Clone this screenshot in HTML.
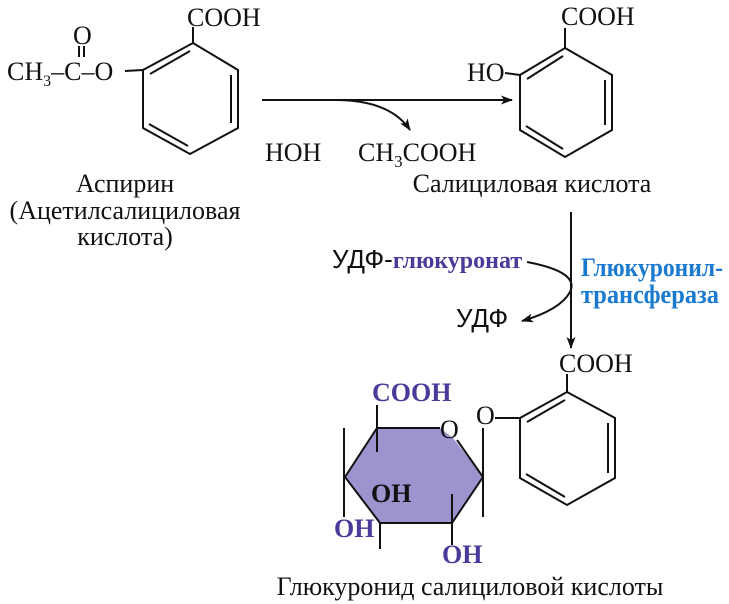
<!DOCTYPE html>
<html><head><meta charset="utf-8"><style>
html,body{margin:0;padding:0;background:#fff;}
svg{display:block;}
text{font-family:"Liberation Serif",serif;font-size:26px;fill:#111;}
.p{fill:#4b3a9a;font-weight:bold;}
.b{fill:#1a7ad0;font-weight:bold;}
.s{font-family:"Liberation Sans",sans-serif;}
</style></head><body>
<svg width="729" height="604" viewBox="0 0 729 604">
<defs><marker id="a" markerWidth="12" markerHeight="9" refX="11" refY="4.5" orient="auto" markerUnits="userSpaceOnUse"><path d="M0,0 L12,4.5 L0,9 L3,4.5z" fill="#111"/></marker></defs>
<g stroke="#111" stroke-width="2" fill="none">
<polygon points="193,43 238,70 238,128 190,154 143,128 143,70"/>
<line x1="150" y1="74" x2="190" y2="51"/>
<line x1="231" y1="75" x2="231" y2="123"/>
<line x1="149" y1="124" x2="188" y2="146"/>
<line x1="193" y1="43" x2="193" y2="27"/>
<line x1="125" y1="71" x2="143" y2="70"/>
<line x1="79" y1="46" x2="79" y2="57"/><line x1="84" y1="46" x2="84" y2="57"/>
<line x1="262" y1="100" x2="512" y2="100" marker-end="url(#a)"/>
<path d="M335,100 Q390,100 410,130" marker-end="url(#a)"/>
<polygon points="565,48 612,75 612,130 565,157 520,130 520,75"/>
<line x1="527" y1="79" x2="563" y2="56"/>
<line x1="605" y1="80" x2="605" y2="125"/>
<line x1="526" y1="126" x2="563" y2="149"/>
<line x1="565" y1="48" x2="565" y2="28"/>
<line x1="505" y1="73" x2="520" y2="75"/>
<line x1="571" y1="212" x2="571" y2="348" marker-end="url(#a)"/>
<path d="M527,262 Q580,272 570,292 Q560,310 522,321" marker-end="url(#a)"/>
</g>
<polygon points="377,428 440,428 453,438 483,477 452,523 380,523 345,477" fill="#9d93cf" stroke="none"/>
<g stroke="#111" stroke-width="2" fill="none">
<polyline points="440,428 377,428 345,477 380,523 452,523 483,477 457,440"/>
<line x1="344" y1="428" x2="344" y2="517"/>
<line x1="483" y1="428" x2="483" y2="517"/>
<line x1="377" y1="405" x2="377" y2="452"/>
<line x1="452" y1="494" x2="452" y2="545"/>
<line x1="380" y1="523" x2="380" y2="549"/>
<line x1="495" y1="418" x2="520" y2="418"/>
<polygon points="520,418 567,392 615,418 615,478 567,505 520,478"/>
<line x1="527" y1="422" x2="565" y2="400"/>
<line x1="608" y1="423" x2="608" y2="473"/>
<line x1="526" y1="474" x2="565" y2="497"/>
<line x1="567" y1="392" x2="567" y2="374"/>
</g>
<text x="187" y="26">COOH</text>
<text x="73" y="44" font-size="24">O</text>
<text x="7" y="80" font-size="25">CH<tspan font-size="16" dy="6">3</tspan><tspan dy="-6">–C–O</tspan></text>
<text x="265" y="161">HOH</text>
<text x="358" y="161">CH<tspan font-size="17" dy="6">3</tspan><tspan dy="-6">COOH</tspan></text>
<text x="561" y="25">COOH</text>
<text x="467" y="81" font-size="24">HO</text>
<text x="125" y="192" text-anchor="middle">Аспирин</text>
<text x="125" y="219" text-anchor="middle">(Ацетилсалициловая</text>
<text x="125" y="245" text-anchor="middle">кислота)</text>
<text x="532" y="192" text-anchor="middle">Салициловая кислота</text>
<text x="332" y="268" class="s" font-size="22">УДФ-<tspan class="p" font-family="Liberation Serif" font-size="24">глюкуронат</tspan></text>
<text x="581" y="276" class="b" font-size="21" textLength="142" lengthAdjust="spacingAndGlyphs">Глюкуронил-</text>
<text x="581" y="303" class="b" font-size="21" textLength="138" lengthAdjust="spacingAndGlyphs">трансфераза</text>
<text x="456" y="327" class="s" font-size="23">УДФ</text>
<text x="559" y="372">COOH</text>
<text x="372" y="401" class="p" font-size="23">COOH</text>
<text x="440" y="438" font-size="24">O</text>
<text x="476" y="424" font-size="24">O</text>
<text x="371" y="502" font-size="24" font-weight="bold">OH</text>
<text x="334" y="537" class="p" font-size="23">OH</text>
<text x="442" y="563" class="p" font-size="23">OH</text>
<text x="470" y="595" text-anchor="middle">Глюкуронид салициловой кислоты</text>
</svg>
</body></html>
